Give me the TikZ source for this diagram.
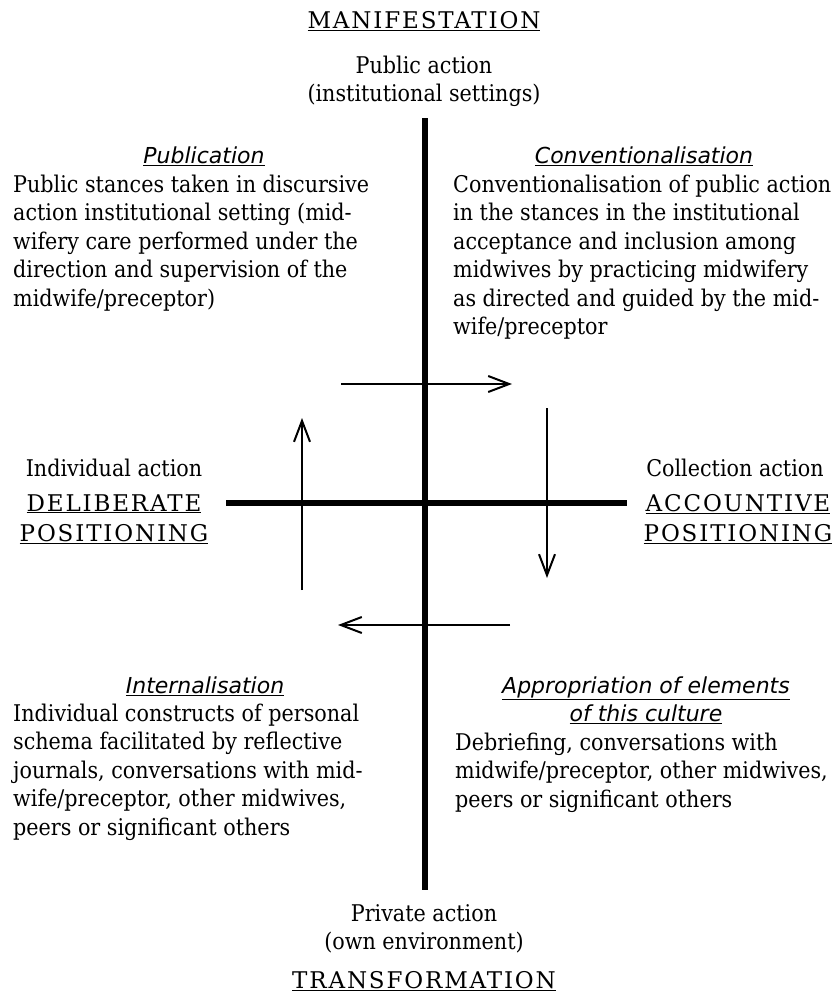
\documentclass[tikz,border=0pt]{standalone}
\usepackage{fontspec}
\usetikzlibrary{arrows.meta}
\setmainfont[FakeStretch=0.9]{DejaVu Serif}
\newfontfamily\titlefont{DejaVu Sans Oblique}
\newfontfamily\capsfont[LetterSpace=8]{DejaVu Serif}
\tikzset{
  bodytext/.style={font=\fontsize{23}{28.5}\selectfont, align=left, anchor=north west, inner sep=0pt},
  centertext/.style={font=\fontsize{23}{28.5}\selectfont, align=center, anchor=north, inner sep=0pt},
  titletext/.style={font=\titlefont\fontsize{22}{28.5}\selectfont, align=center, anchor=north, inner sep=0pt},
  capstext/.style={font=\capsfont\fontsize{23}{30}\selectfont, align=center, anchor=north, inner sep=0pt},
  axisline/.style={line width=5.5pt},
  flow/.style={line width=2pt, -{Straight Barb[length=21pt,width=16pt]}}
}
\begin{document}
\begin{tikzpicture}[x=1pt,y=-1pt]
\useasboundingbox (0,0) rectangle (839,997);
% axes
\coordinate (vt) at (425,118);
\coordinate (vb) at (425,890);
\coordinate (hl) at (226,503);
\coordinate (hr) at (627,503);
\draw[axisline] (vt) -- (vb);
\draw[axisline] (hl) -- (hr);
% cycle arrows
\coordinate (a1s) at (341,384); \coordinate (a1e) at (512,384);
\coordinate (a2s) at (547,408); \coordinate (a2e) at (547,578);
\coordinate (a3s) at (510,625); \coordinate (a3e) at (338,625);
\coordinate (a4s) at (302,590); \coordinate (a4e) at (302,418);
\draw[flow] (a1s) -- (a1e);
\draw[flow] (a2s) -- (a2e);
\draw[flow] (a3s) -- (a3e);
\draw[flow] (a4s) -- (a4e);
% top
\node[capstext] (manif) at (424,7) {\strut\underline{MANIFESTATION}};
\node[centertext] (public) at (424,53) {\strut Public action\\(institutional settings)};
% bottom
\node[centertext] (private) at (424,901) {\strut Private action\\(own environment)};
\node[capstext] (transf) at (424,967) {\strut\underline{TRANSFORMATION}};
% middle left / right
\node[centertext] (indiv) at (114,456) {\strut Individual action};
\node[capstext] (delib) at (114,490) {\strut\underline{DELIBERATE}\\\underline{POSITIONING}};
\node[centertext] (coll) at (735,456) {\strut Collection action};
\node[capstext] (accnt) at (738,490) {\strut\underline{ACCOUNTIVE}\\\underline{POSITIONING}};
% quadrant top-left
\node[titletext] (pubtitle) at (204,143) {\strut\underline{Publication}};
\node[bodytext] (pubbody) at (13,172) {\strut Public stances taken in discursive\\
action institutional setting (mid-\\
wifery care performed under the\\
direction and supervision of the\\
midwife/preceptor)};
% quadrant top-right
\node[titletext] (convtitle) at (644,143) {\strut\underline{Conventionalisation}};
\node[bodytext] (convbody) at (453,172) {\strut Conventionalisation of public action\\
in the stances in the institutional\\
acceptance and inclusion among\\
midwives by practicing midwifery\\
as directed and guided by the mid-\\
wife/preceptor};
% quadrant bottom-left
\node[titletext] (inttitle) at (205,673) {\strut\underline{Internalisation}};
\node[bodytext] (intbody) at (13,701) {\strut Individual constructs of personal\\
schema facilitated by reflective\\
journals, conversations with mid-\\
wife/preceptor, other midwives,\\
peers or significant others};
% quadrant bottom-right
\node[titletext] (apptitle) at (646,673) {\strut\underline{Appropriation of elements}\\\underline{of this culture}};
\node[bodytext] (appbody) at (455,730) {\strut Debriefing, conversations with\\
midwife/preceptor, other midwives,\\
peers or significant others};
\end{tikzpicture}
\end{document}
